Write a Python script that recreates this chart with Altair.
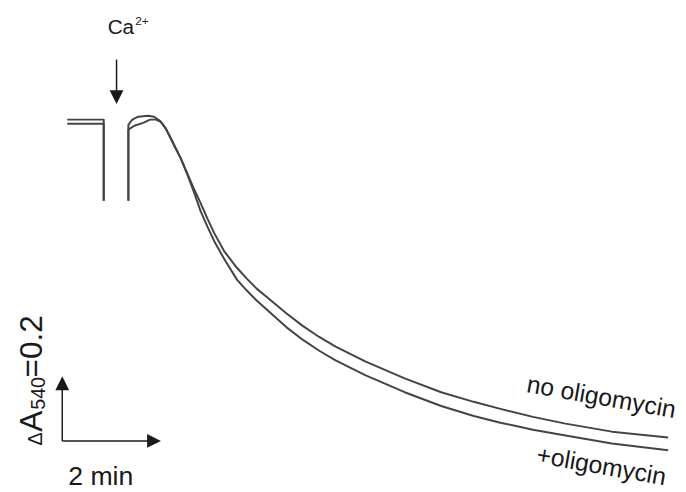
import altair as alt
import pandas as pd

# ---- trace data: time (min) vs absorbance change (A540) ----
pre_t = [0.0, 0.74, 0.74]
pre_no = [1.022, 1.022, 0.769]
pre_plus = [1.009, 1.009, 0.769]

no_t = [1.24, 1.24, 1.32, 1.44, 1.64, 1.76, 1.88, 2.00, 2.10, 2.20, 2.30, 2.44, 2.56, 2.70,
        2.84, 2.98, 3.18, 3.44, 3.64, 3.84, 4.10, 4.44, 4.78, 5.10, 5.44, 6.04, 6.84, 7.58,
        8.24, 8.78, 9.44, 10.10, 11.04, 12.18]
no_a = [0.769, 1.006, 1.022, 1.031, 1.034, 1.031, 1.018, 0.994, 0.963, 0.932, 0.902, 0.852,
        0.809, 0.763, 0.714, 0.668, 0.612, 0.560, 0.526, 0.495, 0.462, 0.418, 0.378, 0.345,
        0.314, 0.268, 0.215, 0.172, 0.142, 0.120, 0.095, 0.074, 0.049, 0.031]

plus_t = [1.24, 1.24, 1.36, 1.54, 1.68, 1.80, 1.90, 2.00, 2.10, 2.30, 2.44, 2.56, 2.70, 2.84,
          2.98, 3.18, 3.44, 3.64, 3.84, 4.10, 4.44, 4.78, 5.10, 5.44, 6.04, 6.84, 7.58, 8.24,
          8.78, 9.44, 10.10, 11.04, 12.18]
plus_a = [0.769, 0.991, 1.003, 1.012, 1.022, 1.022, 1.015, 0.994, 0.963, 0.902, 0.849, 0.800,
          0.738, 0.689, 0.643, 0.588, 0.523, 0.489, 0.458, 0.422, 0.375, 0.335, 0.302, 0.271,
          0.225, 0.172, 0.129, 0.098, 0.077, 0.055, 0.037, 0.012, -0.009]

series_names = ["no oligomycin", "+oligomycin"]

rows = []
for name, pre_a, ts, As in [(series_names[0], pre_no, no_t, no_a),
                            (series_names[1], pre_plus, plus_t, plus_a)]:
    i = 0
    for t, a in zip(pre_t, pre_a):
        rows.append({"series": name, "seg": 1, "idx": i, "t": t, "A": a}); i += 1
    for t, a in zip(ts, As):
        rows.append({"series": name, "seg": 2, "idx": i, "t": t, "A": a}); i += 1
traces = pd.DataFrame(rows)

X_DOM = [-1.2, 12.2]
Y_DOM = [1.36 - 476 / 325, 1.36]
xs = alt.Scale(domain=X_DOM, nice=False, zero=False)
ys = alt.Scale(domain=Y_DOM, nice=False, zero=False)
INK = "#1a1a1a"
TRACE = "#444444"
FONT = "Liberation Sans"

def X():
    return alt.X("t:Q", scale=xs, axis=None)

def Y():
    return alt.Y("A:Q", scale=ys, axis=None)

lines = alt.Chart(traces).mark_line(color=TRACE, strokeWidth=2, strokeJoin="round").encode(
    x=X(), y=Y(), detail=["series:N", "seg:N"], order="idx:Q"
)

# ---- scale bar and Ca2+ arrow ----
rules_df = pd.DataFrame({
    "t": [-0.1, -0.1, 1.0],
    "A": [0.02, 0.02, 1.209],
    "t2": [-0.1, 1.76, 1.0],
    "A2": [0.20, 0.02, 1.092],
})
rules = alt.Chart(rules_df).mark_rule(color=INK, strokeWidth=1.5).encode(
    x=X(), y=Y(), x2="t2:Q", y2="A2:Q"
)

def head(t, a, path):
    return alt.Chart(pd.DataFrame({"t": [t], "A": [a]})).mark_point(
        shape=path, size=196, filled=True, color=INK, opacity=1, strokeWidth=0
    ).encode(x=X(), y=Y())

heads = [
    head(-0.1, 0.20, "M0,-1L-1,1L1,1Z"),
    head(1.76, 0.02, "M1,0L-1,-1L-1,1Z"),
    head(1.0, 1.092, "M0,1L-1,-1L1,-1Z"),
]

def label(text, t, a, size, angle=0, align="left", baseline="alphabetic"):
    return alt.Chart(pd.DataFrame({"t": [t], "A": [a], "txt": [text]})).mark_text(
        font=FONT, fontSize=size, angle=angle, align=align, baseline=baseline, color=INK
    ).encode(x=X(), y=Y(), text="txt:N")

labels = [
    label("Ca", 0.82, 1.289, 21),
    label("2+", 1.38, 1.317, 12),
    label("2 min", 0.68, -0.117, 27, align="center"),
    label("\u0394", -0.52, 0.006, 20, angle=270),
    label("A", -0.52, 0.049, 32, angle=270),
    label("540", -0.46, 0.117, 20, angle=270),
    label("=0.2", -0.52, 0.218, 32, angle=270),
    label("no oligomycin", 10.80, 0.132, 25, angle=10, align="center"),
    label("+oligomycin", 10.80, -0.083, 25, angle=10, align="center"),
]

chart = alt.layer(lines, rules, *heads, *labels).properties(
    width=670, height=476, padding=0, background="white",
    view=alt.ViewBackground(stroke=None, strokeWidth=0, fill="white")
).configure_view(strokeWidth=0, stroke=None)

chart.save("out.html", embed_options={"renderer": "svg", "actions": False})
